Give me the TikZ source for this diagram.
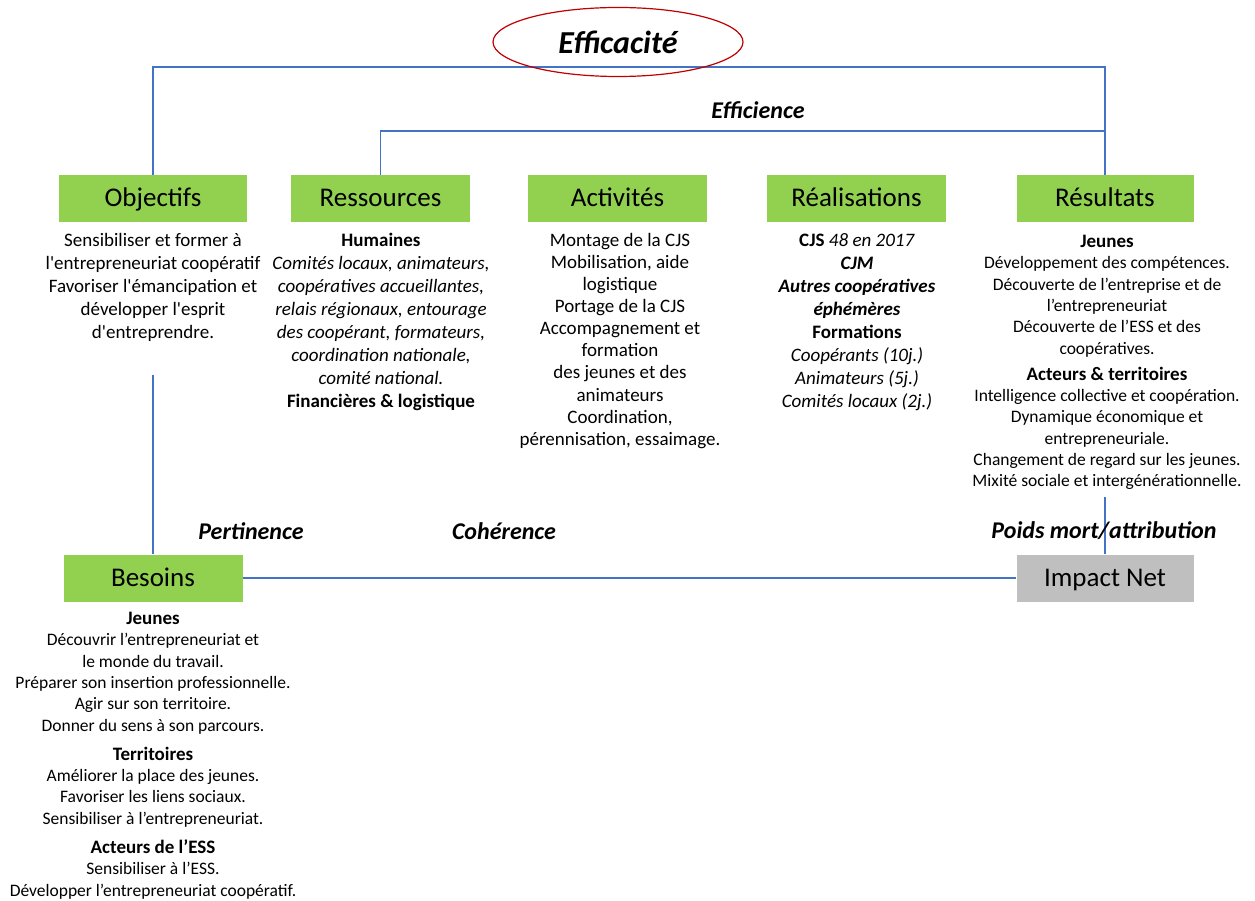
\documentclass[tikz,border=0pt]{standalone}
\usepackage{fontspec}
\setmainfont{Carlito}
\newfontfamily\droit{Carlito}[Ligatures=TeXOff]
\usetikzlibrary{shapes.geometric}
\definecolor{vert}{HTML}{92D050}
\definecolor{gris}{HTML}{BFBFBF}
\definecolor{bleu}{HTML}{4472C4}
\definecolor{rouge}{HTML}{C00000}
\newcommand{\titre}[1]{{\fontsize{19}{21.3}\selectfont\bfseries #1}}

\begin{document}
\begin{tikzpicture}[x=1pt,y=-1pt]
  \tikzset{boite/.style = {fill=vert, minimum width=179pt, minimum height=47pt, inner sep=0pt,
      text height=20pt, text depth=3pt, font=\fontsize{27}{27}\selectfont},
    texte/.style = {anchor=north, align=center, inner sep=0pt, font=\fontsize{19}{23}\selectfont},
    texteb/.style = {texte, font=\fontsize{17.5}{21.3}\selectfont},
    critere/.style = {inner sep=0pt, font=\fontsize{24}{24}\selectfont\bfseries\itshape},
    lien/.style = {bleu, line width=1.2pt}}
  \useasboundingbox (0,0) rectangle (1255,901);

  % les cases
  \node[boite, minimum width=188pt] (objectifs) at (153,198.5) {Objectifs};
  \node[boite] (ressources) at (380.5,198.5) {Ressources};
  \node[boite] (activites) at (617.5,198.5) {Activités};
  \node[boite] (realisations) at (856.5,198.5) {Réalisations};
  \node[boite, minimum width=177pt] (resultats) at (1105,198.5) {Résultats};
  \node[boite] (besoins) at (153,578) {Besoins};
  \node[boite, fill=gris, minimum width=177pt] (impact) at (1105,578) {Impact Net};

  \coordinate (haut) at (618,67);
  \coordinate (milieu) at (758,131);
  \coordinate (objbas) at (besoins.north |- 0,375);
  \coordinate (resbas) at (impact.north |- 0,497);

  \draw[lien] (objectifs.north) |- (haut) -| (resultats.north);
  \draw[lien] (ressources.north) |- (milieu) -| (resultats.north);
  \draw[lien] (objbas) -- (besoins.north);
  \draw[lien] (besoins.east) -- (impact.west);
  \draw[lien] (resbas) -- (impact.north);

  \node[draw=rouge, ellipse, line width=1.2pt, minimum width=250pt, minimum height=69pt, inner sep=0pt,
    font=\fontsize{32}{32}\selectfont\bfseries\itshape] (efficacite) at (618,42) {Efficacité};
  \node[critere] (efficience) at (758,110) {Efficience};
  \node[critere] (pertinence) at (251,531) {Pertinence};
  \node[critere] (coherence) at (504,531) {Cohérence};
  \node[critere] (poids) at (1104,531) {Poids mort/attribution};

  % les textes sous les cases
  \node[texte, font=\fontsize{19}{23}\droit] (tobj) at (153,233) {Sensibiliser et former à\\ l'entrepreneuriat coopératif\\
    Favoriser l'émancipation et\\ développer l'esprit\\ d'entreprendre.};
  \node[texte] (tres) at (381,233) {\textbf{Humaines}\\ \textit{Comités locaux, animateurs,}\\
    \textit{coopératives accueillantes,}\\ \textit{relais régionaux, entourage}\\
    \textit{des coopérant, formateurs,}\\ \textit{coordination nationale,}\\
    \textit{comité national.}\\ \textbf{Financières \& logistique}};
  \node[texte, font=\fontsize{19}{22.1}\selectfont] (tact) at (620,233) {Montage de la CJS\\ Mobilisation, aide\\ logistique\\
    Portage de la CJS\\ Accompagnement et\\ formation\\ des jeunes et des\\ animateurs\\
    Coordination,\\ pérennisation, essaimage.};
  \node[texte] (treal) at (857,233) {\textbf{CJS} \textit{48 en 2017}\\ \textbf{\textit{CJM}}\\
    \textbf{\textit{Autres coopératives}}\\ \textbf{\textit{éphémères}}\\ \textbf{Formations}\\
    \textit{Coopérants (10j.)}\\ \textit{Animateurs (5j.)}\\ \textit{Comités locaux (2j.)}};
  \node[texteb] (tresu) at (1107,235) {\titre{Jeunes}\\ Développement des compétences.\\
    Découverte de l’entreprise et de\\ l’entrepreneuriat\\ Découverte de l’ESS et des\\
    coopératives.\\[5pt] \titre{Acteurs \& territoires}\\ Intelligence collective et coopération.\\
    Dynamique économique et\\ entrepreneuriale.\\ Changement de regard sur les jeunes.\\
    Mixité sociale et intergénérationnelle.};
  \node[texteb] (tbes) at (153,612) {\titre{Jeunes}\\ Découvrir l’entrepreneuriat et\\
    le monde du travail.\\ Préparer son insertion professionnelle.\\ Agir sur son territoire.\\
    Donner du sens à son parcours.\\[8pt] \titre{Territoires}\\ Améliorer la place des jeunes.\\
    Favoriser les liens sociaux.\\ Sensibiliser à l’entrepreneuriat.\\[8pt]
    \titre{Acteurs de l’ESS}\\ Sensibiliser à l’ESS.\\ Développer l’entrepreneuriat coopératif.};
\end{tikzpicture}
\end{document}
